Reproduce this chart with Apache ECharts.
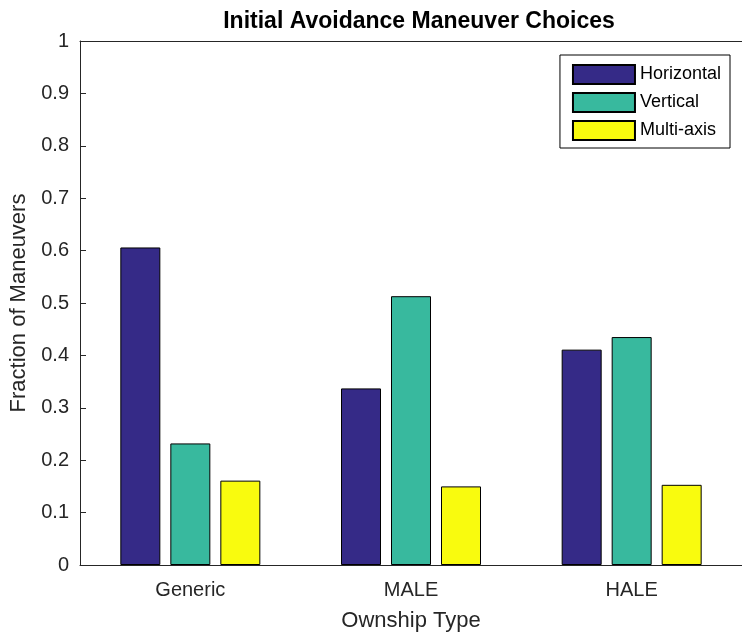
<!DOCTYPE html>
<html><head><meta charset="utf-8">
<script src="https://cdn.jsdelivr.net/npm/echarts@6/dist/echarts.min.js"></script>
<style>html,body{margin:0;padding:0;background:#fff}#c{width:742px;height:637px}</style>
</head><body><div id="c"></div>
<script>
const categories = ['Generic', 'MALE', 'HALE'];
const horizontal = [0.606, 0.337, 0.411];
const vertical = [0.232, 0.513, 0.435];
const multiAxis = [0.161, 0.150, 0.153];
const seriesNames = ['Horizontal', 'Vertical', 'Multi-axis'];
const colors = ['#352a87', '#38b99e', '#f9fb0e'];

const chart = echarts.init(document.getElementById('c'), null, {renderer: 'canvas'});
const font = 'Liberation Sans, Arial, Helvetica, sans-serif';
const txt = '#262626';
const mk = (name, data, i) => ({
  name, type: 'bar', data, barWidth: 40, barGap: '25%',
  itemStyle: {color: colors[i], borderColor: '#000', borderWidth: 1},
  emphasis: {disabled: true}
});
chart.setOption({
  animation: false,
  textStyle: {fontFamily: font},
  title: {text: 'Initial Avoidance Maneuver Choices', left: 414, textAlign: 'center', top: 5,
    textStyle: {fontFamily: font, fontSize: 23, fontWeight: 'bold', color: '#000'}},
  legend: {
    right: 12, top: 55, orient: 'vertical', icon: 'rect', itemWidth: 62, itemHeight: 19, itemGap: 7,
    backgroundColor: '#fff', borderColor: '#000', borderWidth: 1, padding: [9, 9, 7, 12],
    textStyle: {fontFamily: font, fontSize: 18, color: '#000'},
    data: seriesNames
  },
  grid: {left: 80, width: 669, top: 41, bottom: 71, containLabel: false},
  xAxis: [{
    type: 'category', data: categories,
    name: 'Ownship Type', nameLocation: 'middle', nameGap: 45,
    nameTextStyle: {fontFamily: font, fontSize: 22, color: txt},
    axisLine: {lineStyle: {color: txt, width: 1}},
    axisTick: {inside: true, alignWithLabel: true, length: 6, lineStyle: {color: txt}},
    axisLabel: {fontFamily: font, fontSize: 20, color: txt, margin: 15}
  }, {
    type: 'category', data: categories, position: 'top',
    axisLine: {lineStyle: {color: txt, width: 1}},
    axisTick: {inside: true, alignWithLabel: true, length: 6, lineStyle: {color: txt}},
    axisLabel: {show: false}
  }],
  yAxis: [{
    type: 'value', min: 0, max: 1, interval: 0.1,
    name: 'Fraction of Maneuvers', nameLocation: 'middle', nameGap: 49, nameRotate: 90,
    nameTextStyle: {fontFamily: font, fontSize: 22, color: txt},
    axisLine: {show: true, lineStyle: {color: txt, width: 1}},
    axisTick: {show: true, inside: true, length: 6, lineStyle: {color: txt}},
    splitLine: {show: false},
    axisLabel: {fontFamily: font, fontSize: 20, color: txt, margin: 11,
      formatter: v => String(Math.round(v * 10) / 10)}
  }],
  series: [mk(seriesNames[0], horizontal, 0), mk(seriesNames[1], vertical, 1), mk(seriesNames[2], multiAxis, 2)]
});
</script></body></html>
